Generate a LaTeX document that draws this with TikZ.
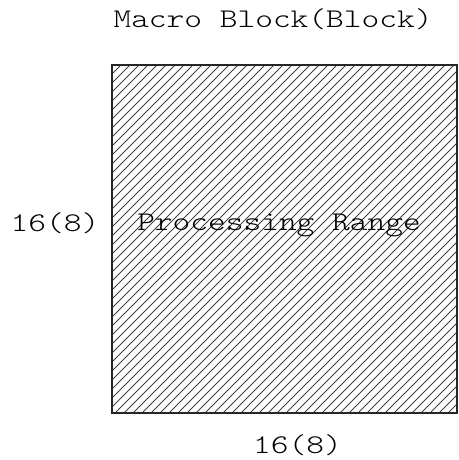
\documentclass[tikz,border=0pt]{standalone}
\usepackage{fontspec}
\setmonofont[FakeStretch=1.25]{Latin Modern Mono Light}
\usetikzlibrary{positioning}

\begin{document}
\begin{tikzpicture}[x=1pt, y=-1pt,
    lbl/.style={font=\ttfamily\fontsize{27}{32}\selectfont, inner sep=0pt, anchor=base},
    hatch/.style={line width=0.8pt, black!75},
    frame/.style={line width=1.4pt, black!85}
  ]
    \useasboundingbox (0,0) rectangle (458,460);

    % hatched block
    \begin{scope}
      \clip (112,65) rectangle (457,413);
      \foreach \i in {0,...,77}
        \draw[hatch] ({112-348+9*\i},413) -- ++(348,-348);
    \end{scope}
    \draw[frame] (112,65) rectangle (457,413);

    \node[lbl] (title) at (273,28) {Macro Block(Block)};
    \node[lbl] (range) at (279,230) {Processing Range};
    \node[lbl] (hgt) at (55,231) {16(8)};
    \node[lbl] (wid) at (297.5,453) {16(8)};
  \end{tikzpicture}
\end{document}
